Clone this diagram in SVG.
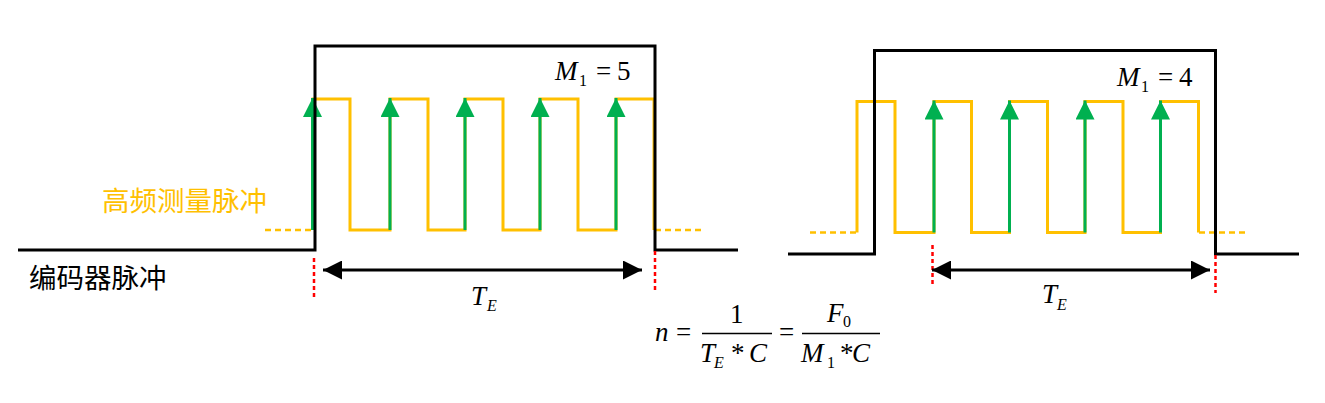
<svg xmlns="http://www.w3.org/2000/svg" width="1325" height="403" viewBox="0 0 1325 403">
  <defs>
    <style>
      .enc{fill:none;stroke:#000;stroke-width:3;stroke-linejoin:miter}
      .hf{fill:none;stroke:#FFC000;stroke-width:3;stroke-linejoin:miter}
      .hfd{fill:none;stroke:#FFC000;stroke-width:2.5;stroke-dasharray:6 4}
      .grn{stroke:#00B050;stroke-width:3}
      .red{stroke:#FF0000;stroke-width:2.5;stroke-dasharray:4 3}
      .dim{stroke:#000;stroke-width:3}
      .m{font-family:"Liberation Serif","Times New Roman",serif;font-style:italic;fill:#000}
      .r{font-family:"Liberation Serif","Times New Roman",serif;fill:#000}
      .cjk{font-family:"Noto Sans CJK SC",sans-serif;font-size:27.5px}
    </style>
    <marker id="ga" viewBox="0 0 19 19" refX="19" refY="9.5" markerWidth="19" markerHeight="19" markerUnits="userSpaceOnUse" orient="auto">
      <path d="M0,0 L19,9.5 L0,19 Z" fill="#00B050"/>
    </marker>
    <marker id="ba" viewBox="0 0 19 19" refX="19" refY="9.5" markerWidth="19" markerHeight="19" markerUnits="userSpaceOnUse" orient="auto-start-reverse">
      <path d="M0,0 L19,9.5 L0,19 Z" fill="#000"/>
    </marker>
  </defs>
  <rect width="1325" height="403" fill="#fff"/>

  <!-- Left diagram -->
  <g id="left-hf-pulses">
    <line class="hfd" x1="265" y1="230" x2="312" y2="230"/>
    <path class="hf" d="M313,230 V99 H350 V230 H390 V99 H428 V230 H465 V99 H503 V230 H540 V99 H578 V230 H616 V99 H654 V230"/>
    <line class="hfd" x1="655" y1="230" x2="701" y2="230"/>
  </g>
  <g id="left-edges">
    <line class="grn" x1="312.5" y1="230" x2="312.5" y2="98" marker-end="url(#ga)"/>
    <line class="grn" x1="390" y1="230" x2="390" y2="98" marker-end="url(#ga)"/>
    <line class="grn" x1="465" y1="230" x2="465" y2="98" marker-end="url(#ga)"/>
    <line class="grn" x1="540" y1="230" x2="540" y2="98" marker-end="url(#ga)"/>
    <line class="grn" x1="616" y1="230" x2="616" y2="98" marker-end="url(#ga)"/>
  </g>
  <g id="left-encoder">
    <path class="enc" d="M18,250 H315 V46 H655 V250 H738"/>
  </g>
  <g id="left-span">
    <line class="red" x1="314" y1="258" x2="314" y2="297"/>
    <line class="red" x1="655" y1="251" x2="655" y2="291"/>
    <line class="dim" x1="323" y1="270" x2="642" y2="270" marker-start="url(#ba)" marker-end="url(#ba)"/>
    <text class="m" x="471" y="305" font-size="27">T</text>
    <text class="m" x="487" y="311" font-size="16">E</text>
  </g>
  <g id="left-count">
    <text class="m" x="555" y="80" font-size="27">M</text>
    <text class="r" x="579" y="86" font-size="16">1</text>
    <text class="r" x="596" y="80" font-size="27">=</text>
    <text class="r" x="617" y="80" font-size="27">5</text>
  </g>

  <!-- Right diagram -->
  <g id="right-hf-pulses">
    <line class="hfd" x1="810" y1="232.5" x2="857" y2="232.5"/>
    <path class="hf" d="M857,232.5 V101.5 H895 V232.5 H934 V101.5 H971.5 V232.5 H1009.5 V101.5 H1047.5 V232.5 H1085 V101.5 H1123 V232.5 H1160.5 V101.5 H1198.5 V232.5"/>
    <line class="hfd" x1="1199" y1="232.5" x2="1245" y2="232.5"/>
  </g>
  <g id="right-edges">
    <line class="grn" x1="934" y1="232.5" x2="934" y2="100.5" marker-end="url(#ga)"/>
    <line class="grn" x1="1009.5" y1="232.5" x2="1009.5" y2="100.5" marker-end="url(#ga)"/>
    <line class="grn" x1="1085" y1="232.5" x2="1085" y2="100.5" marker-end="url(#ga)"/>
    <line class="grn" x1="1160.5" y1="232.5" x2="1160.5" y2="100.5" marker-end="url(#ga)"/>
  </g>
  <g id="right-encoder">
    <path class="enc" d="M788,254 H874.5 V50.5 H1215.5 V254 H1299"/>
  </g>
  <g id="right-span">
    <line class="red" x1="932.5" y1="245" x2="932.5" y2="286"/>
    <line class="red" x1="1215.5" y1="255" x2="1215.5" y2="293"/>
    <line class="dim" x1="932" y1="270" x2="1210" y2="270" marker-start="url(#ba)" marker-end="url(#ba)"/>
    <text class="m" x="1042" y="303" font-size="27">T</text>
    <text class="m" x="1057" y="310" font-size="16">E</text>
  </g>
  <g id="right-count">
    <text class="m" x="1117" y="86" font-size="27">M</text>
    <text class="r" x="1141" y="92" font-size="16">1</text>
    <text class="r" x="1158" y="86" font-size="27">=</text>
    <text class="r" x="1179" y="86" font-size="27">4</text>
  </g>

  <!-- Labels -->
  <g id="label-hf">
    <text class="cjk" x="102" y="211" fill="#FFC000">高频测量脉冲</text>
  </g>
  <g id="label-encoder">
    <text class="cjk" x="29" y="288" fill="#000">编码器脉冲</text>
  </g>

  <!-- Formula -->
  <g id="formula">
    <text class="m" x="655" y="341" font-size="27">n</text>
    <text class="r" x="676" y="341" font-size="27">=</text>
    <line x1="702" y1="333.5" x2="772" y2="333.5" stroke="#000" stroke-width="1.3"/>
    <text class="r" x="730" y="323" font-size="27">1</text>
    <text class="m" x="700" y="362" font-size="27">T</text>
    <text class="m" x="714" y="368" font-size="16">E</text>
    <text class="r" x="731" y="362" font-size="27">*</text>
    <text class="m" x="749" y="362" font-size="27">C</text>
    <text class="r" x="779" y="341" font-size="27">=</text>
    <line x1="802" y1="333.5" x2="880" y2="333.5" stroke="#000" stroke-width="1.3"/>
    <text class="m" x="827" y="322" font-size="27">F</text>
    <text class="r" x="843" y="327" font-size="16">0</text>
    <text class="m" x="801" y="362" font-size="27">M</text>
    <text class="r" x="827" y="368" font-size="16">1</text>
    <text class="r" x="840" y="362" font-size="27">*</text>
    <text class="m" x="852" y="362" font-size="27">C</text>
  </g>
</svg>
